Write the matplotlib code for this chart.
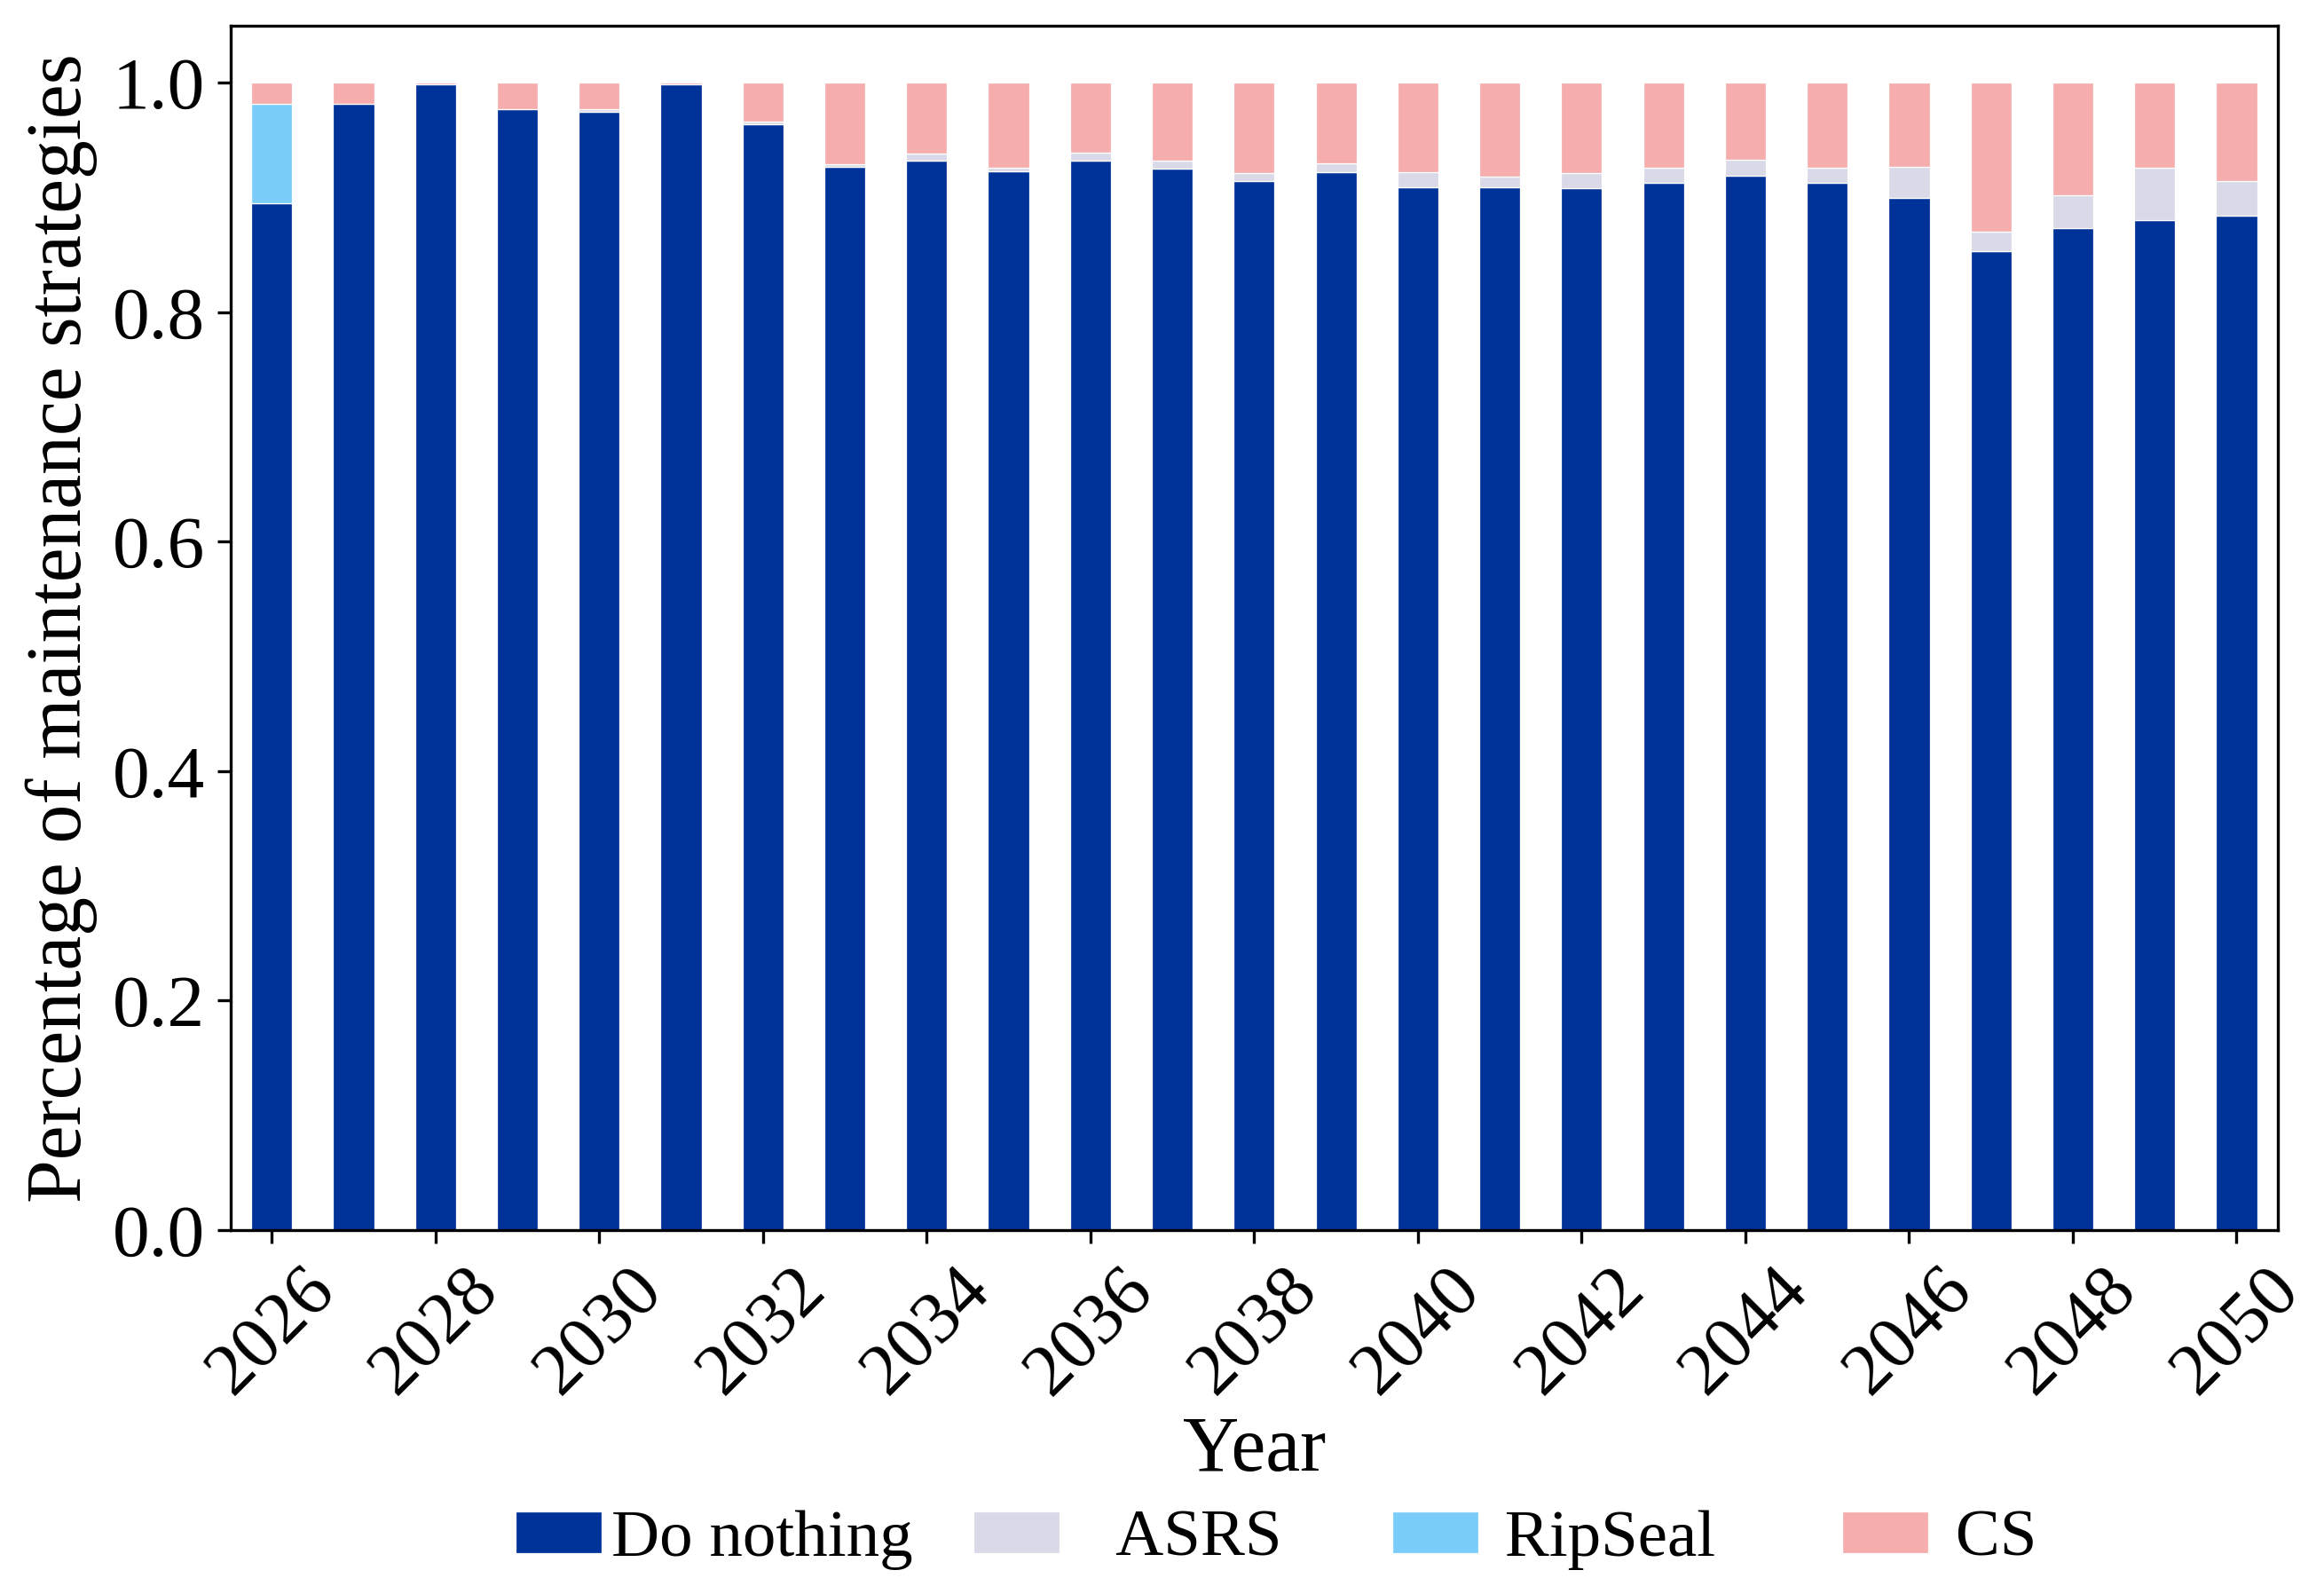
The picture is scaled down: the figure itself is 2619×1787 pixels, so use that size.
import pandas as pd
import numpy as np
import matplotlib
matplotlib.use('Agg')
import matplotlib.pyplot as plt

# Fonte estilo Times
plt.rcParams['font.family'] = ['Liberation Serif', 'DejaVu Serif']
plt.rcParams['mathtext.fontset'] = 'stix'

# Dados (fração de cada estratégia por ano)
anos = list(range(2026, 2051))
do_nothing = [0.895, 0.982, 0.999, 0.977, 0.975, 0.999, 0.964, 0.927, 0.932, 0.923,
              0.932, 0.925, 0.914, 0.922, 0.909, 0.909, 0.908, 0.913, 0.919, 0.913,
              0.900, 0.853, 0.873, 0.880, 0.884]
asrs = [0.000, 0.000, 0.000, 0.000, 0.002, 0.000, 0.002, 0.002, 0.006, 0.003,
        0.007, 0.007, 0.007, 0.008, 0.013, 0.009, 0.013, 0.013, 0.014, 0.013,
        0.027, 0.017, 0.029, 0.046, 0.030]
ripseal = [0.087, 0.000, 0.000, 0.000, 0.000, 0.000, 0.000, 0.000, 0.000, 0.000,
           0.000, 0.000, 0.000, 0.000, 0.000, 0.000, 0.000, 0.000, 0.000, 0.000,
           0.000, 0.000, 0.000, 0.000, 0.000]
cs = [0.018, 0.018, 0.001, 0.023, 0.023, 0.001, 0.034, 0.071, 0.062, 0.074,
      0.061, 0.068, 0.079, 0.070, 0.078, 0.082, 0.079, 0.074, 0.067, 0.074,
      0.073, 0.130, 0.098, 0.074, 0.086]

rotulos = ['Do nothing', '   ASRS   ', ' RipSeal    ', ' CS']
cores = ['#003399', '#D9D9E7', '#7BCDF9', '#F5AEAD']

df = pd.DataFrame({'Do nothing': do_nothing, 'ASRS': asrs,
                   'RipSeal': ripseal, 'CS': cs}, index=anos)

fig = plt.figure(figsize=(2619 / 300, 1787 / 300), dpi=300)
ax = fig.add_axes([0.0993, 0.2244, 0.8807, 0.7596])

df.plot(kind='bar', stacked=True, ax=ax, width=0.5, color=cores,
        edgecolor='white', linewidth=0.3, legend=False)

ax.set_ylim(0, 1.05)
ax.set_xlim(-0.5, len(anos) - 0.5)
ax.set_yticks(np.arange(0, 1.01, 0.2))
ax.set_yticklabels([f'{v:.1f}' for v in np.arange(0, 1.01, 0.2)], fontsize=20)

pos = list(range(0, len(anos), 2))
ax.set_xticks(pos)
ax.set_xticklabels([str(anos[i]) for i in pos], rotation=45, ha='center', fontsize=20)

ax.set_xlabel('Year', fontsize=21, labelpad=2)
ax.set_ylabel('Percentage of maintenance strategies', fontsize=21)

# Legenda embaixo
handles, _ = ax.get_legend_handles_labels()
fig.legend(handles, rotulos, loc='center', bbox_to_anchor=(0.549, 0.029),
           ncol=4, frameon=False, fontsize=18, handlelength=1.3,
           handleheight=0.6, handletextpad=0.15, columnspacing=0.9)

fig.savefig('out.png', dpi=300)
plt.close()
